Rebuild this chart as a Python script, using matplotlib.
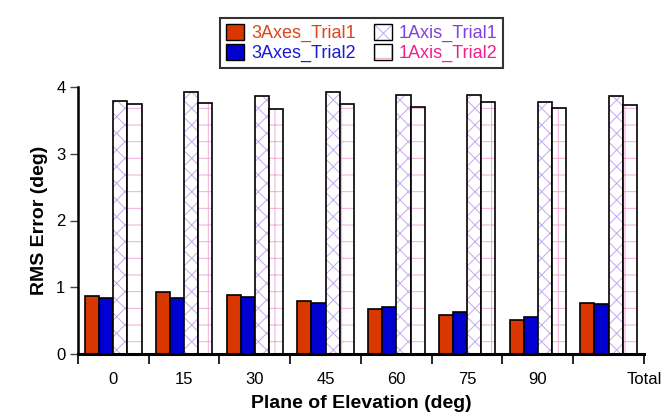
import numpy as np
import matplotlib.pyplot as plt
from matplotlib.patches import Patch

plt.rcParams['font.family'] = ['Liberation Sans', 'DejaVu Sans']
plt.rcParams['hatch.linewidth'] = 0.7

# data
groups = ['0', '15', '30', '45', '60', '75', '90', 'Total']
axes3_trial1 = [0.87, 0.93, 0.88, 0.79, 0.68, 0.58, 0.51, 0.77]
axes3_trial2 = [0.84, 0.84, 0.85, 0.77, 0.70, 0.63, 0.56, 0.75]
axis1_trial1 = [3.79, 3.93, 3.87, 3.93, 3.88, 3.88, 3.77, 3.87]
axis1_trial2 = [3.74, 3.76, 3.67, 3.75, 3.70, 3.77, 3.68, 3.73]

series = [
    ('3Axes_Trial1', axes3_trial1, '#d83800', None, None, '#e0441a'),
    ('3Axes_Trial2', axes3_trial2, '#0000d0', None, None, '#1a1ad8'),
    ('1Axis_Trial1', axis1_trial1, 'white', 'xx', '#c4a8f0', '#8040e0'),
    ('1Axis_Trial2', axis1_trial2, 'white', '+', '#f4aad8', '#f0208c'),
]

fig = plt.figure(figsize=(6.66, 4.2), dpi=100)
ax = fig.add_axes([0.117, 0.157, 0.85, 0.636])

x = np.arange(len(groups))
w = 0.2
for k, (name, vals, fc, hatch, hc, tc) in enumerate(series):
    pos = x + 0.1 + k * w
    if hatch:
        ax.bar(pos, vals, w, align='edge', color=fc, hatch=hatch,
               edgecolor=hc, linewidth=0)
    ax.bar(pos, vals, w, align='edge', color='none' if hatch else fc,
           edgecolor='black', linewidth=1.2)

ax.set_xlim(0, len(groups))
ax.set_ylim(0, 4)
ax.set_yticks([0, 1, 2, 3, 4])
ax.tick_params(axis='y', length=6, width=1, color='#444444', labelsize=12, pad=3)

ax.xaxis.remove_overlapping_locs = False
ax.set_xticks(np.arange(len(groups) + 1))
ax.set_xticklabels([])
ax.tick_params(axis='x', which='major', length=7, width=1.2, direction='out')
lab_pos = list(x[:-1] + 0.5) + [len(groups)]
ax.set_xticks(lab_pos, minor=True)
ax.set_xticklabels(groups, minor=True)
ax.tick_params(axis='x', which='minor', length=0, pad=13, labelsize=12)

for s in ['top', 'right']:
    ax.spines[s].set_visible(False)
ax.spines['left'].set_linewidth(1.8)
ax.spines['bottom'].set_linewidth(2.2)

ax.set_xlabel('Plane of Elevation (deg)', fontsize=14, fontweight='bold', labelpad=6)
ax.set_ylabel('RMS Error (deg)', fontsize=14, fontweight='bold', labelpad=6)

# legend: hatch layer + black outline layer
leg_handles = []
for name, vals, fc, hatch, hc, tc in series:
    if hatch:
        leg_handles.append((Patch(facecolor=fc, edgecolor=hc, hatch=hatch, linewidth=0),
                            Patch(facecolor='none', edgecolor='black', linewidth=1)))
    else:
        leg_handles.append(Patch(facecolor=fc, edgecolor='black', linewidth=1))
leg = fig.legend(leg_handles, [s[0] for s in series], ncol=2,
                 loc='upper center', bbox_to_anchor=(0.543, 0.978),
                 fontsize=13, frameon=True, fancybox=False, edgecolor='black',
                 handlelength=1.0, handleheight=1.0, handletextpad=0.4,
                 columnspacing=1.0, labelspacing=0.1, borderpad=0.3)
leg.get_frame().set_linewidth(1.5)
for t, s in zip(leg.get_texts(), series):
    t.set_color(s[5])

fig.savefig('out.png', dpi=100)
